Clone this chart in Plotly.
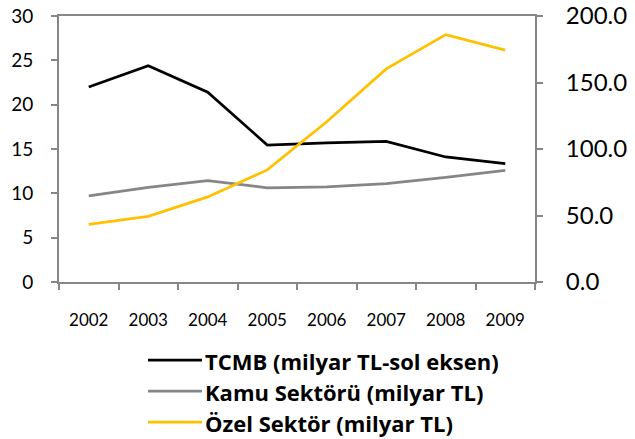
import plotly.graph_objects as go

# Yıllar ve seriler
years = ["2002", "2003", "2004", "2005", "2006", "2007", "2008", "2009"]
tcmb = [22.0, 24.4, 21.4, 15.45, 15.7, 15.85, 14.1, 13.35]      # sol eksen
kamu = [64.8, 71.2, 76.3, 70.8, 71.5, 74.0, 78.7, 84.0]          # sağ eksen
ozel = [43.3, 49.3, 64.0, 84.3, 120.5, 160.2, 186.0, 174.3]      # sağ eksen

names = ["TCMB (milyar TL-sol eksen)", "Kamu Sektörü (milyar TL)", "Özel Sektör (milyar TL)"]
colors = ["#000000", "#868686", "#FFC000"]

AXIS = "#868686"
FONT = "Lato, Carlito, Calibri, sans-serif"
LEG_FONT = "Open Sans, sans-serif"

fig = go.Figure()
fig.add_trace(go.Scatter(x=years, y=tcmb, name=names[0], mode="lines",
                         line=dict(color=colors[0], width=2.75), yaxis="y"))
fig.add_trace(go.Scatter(x=years, y=kamu, name=names[1], mode="lines",
                         line=dict(color=colors[1], width=2.75), yaxis="y2"))
fig.add_trace(go.Scatter(x=years, y=ozel, name=names[2], mode="lines",
                         line=dict(color=colors[2], width=2.75), yaxis="y2"))

W, H = 635, 439
L, R, T, B = 59, 100, 16, 157
pw, ph = W - L - R, H - T - B

def px(x):
    return (x - L) / pw

def py(y):
    return (H - B - y) / ph

# Legend drawn by hand: long line samples and bold labels
for i, (nm, col) in enumerate(zip(names, colors)):
    yy = 360 + i * 31
    fig.add_shape(type="line", xref="paper", yref="paper",
                  x0=px(148), x1=px(202), y0=py(yy), y1=py(yy),
                  line=dict(color=col, width=2.75))
    fig.add_annotation(xref="paper", yref="paper", x=px(203), y=py(yy + 1),
                       text="<b>" + nm + "</b>", showarrow=False,
                       xanchor="left", yanchor="middle",
                       font=dict(family=LEG_FONT, size=22, color="#000000"))

common = dict(ticks="outside", ticklen=6, tickwidth=2, tickcolor=AXIS,
              showline=True, linecolor=AXIS, linewidth=2,
              showgrid=False, zeroline=False, automargin=False)

fig.update_layout(
    width=W, height=H,
    margin=dict(l=L, r=R, t=T, b=B),
    paper_bgcolor="white", plot_bgcolor="white",
    showlegend=False,
    font=dict(family=FONT, color="#000000"),
    xaxis=dict(type="category", range=[-0.5, 7.5], tickson="boundaries",
               mirror=True, tickfont=dict(size=17, family=FONT),
               ticklabelstandoff=22, **common),
    yaxis=dict(range=[0, 30], dtick=5,
               tickfont=dict(size=19, family=FONT), ticklabelstandoff=14,
               **common),
    yaxis2=dict(range=[0, 200], dtick=50, tickformat=".1f", overlaying="y",
                side="right", tickfont=dict(size=24, family=FONT),
                ticklabelstandoff=18, **common),
)

fig.write_html("out.html")
